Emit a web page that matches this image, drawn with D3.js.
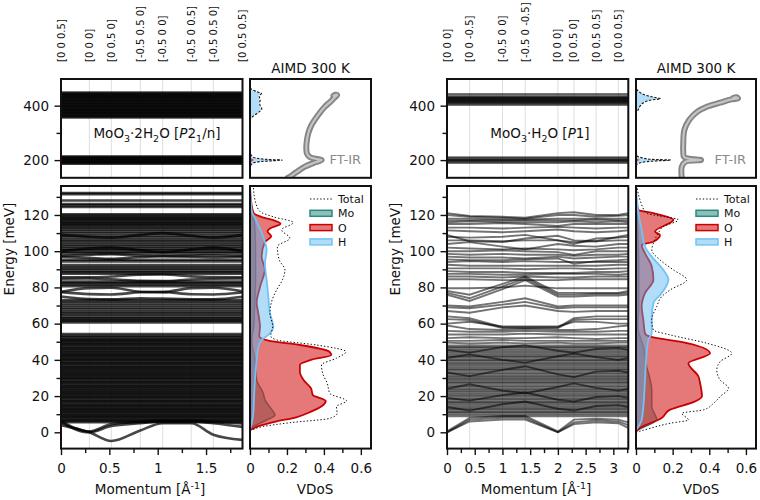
<!DOCTYPE html>
<html>
<head>
<meta charset="utf-8">
<script src="https://cdn.jsdelivr.net/npm/d3@7"></script>
<style>
body { margin: 0; background: #fff; }
text { font-family: "DejaVu Sans", sans-serif; }
</style>
</head>
<body>
<div id="chart"></div>
<script>
// Step 1: data

// high-symmetry points along each path (momentum, 1/A)
var kLeft = [0, 0.293, 0.520, 0.820, 1.052, 1.347, 1.575, 1.877];
var kLeftLabels = ["[0 0 0.5]", "[0 0 0]", "[0 0.5 0]", "[-0.5 0.5 0]", "[-0.5 0 0]", "[-0.5 0 0.5]", "[-0.5 0.5 0]", "[0 0.5 0.5]"];
var kRight = [0, 0.407, 1.002, 1.411, 2.0, 2.29, 2.69, 3.09, 3.27];
var kRightLabels = ["[0 0 0]", "[0 0 -0.5]", "[-0.5 0 0]", "[-0.5 0 -0.5]", "[0 0 0]", "[0 0.5 0]", "[0 0.5 0.5]", "[0 0.0 0.5]"];

// MoO3.2H2O : flat (dispersionless) bands, meV
var hiFlatLeft = [357, 360, 364, 367, 371, 374, 378, 381, 385, 388, 392, 396, 399, 403, 406, 410, 413, 417, 420, 424, 427, 431, 434, 438, 441, 445, 448];
var loFlatLeftTop = [187, 190, 193, 196, 199, 202, 205, 208, 211, 213];
var flatLeft = [5.6, 6.3, 6.9, 7.7, 8.3, 9.1, 9.6, 10.4, 11.1, 11.7, 12.5, 13.1, 13.8, 14.6, 15.2, 15.9, 16.7, 17.3, 18, 18.8,
  19.4, 20.1, 20.9, 21.5, 22.2, 23, 23.6, 24.3, 25.1, 25.7, 26.4, 27.2, 27.8, 28.5, 29.3, 29.9, 30.6, 31.4, 32, 32.7,
  33.5, 34.1, 34.8, 35.6, 36.2, 36.9, 37.7, 38.3, 39, 39.8, 40.4, 41.1, 41.9, 42.5, 43.2, 44, 44.6, 45.3, 46.1, 46.7,
  47.4, 48.2, 48.8, 49.5, 50.3, 50.9, 51.6, 52.4, 53.3, 54.2,
  60.7, 61.5, 62.2, 62.9, 63.8, 64.9, 65.8, 66.7, 67.8, 68.8, 69.9, 71, 72.1, 73,
  80.7, 81.6, 82.4, 83.2, 87.6, 88.4, 89.3, 90.3, 91.2, 92.3, 94.4, 95.3,
  98.8, 99.7, 100.6, 101.4, 102.5, 103.5, 104.6, 105.6, 106.5, 107.6, 108.6, 109.8, 110.8, 111.9, 112.8,
  113.6, 114.3, 115, 115.6, 116.3, 117, 117.6, 118.3, 119, 119.7, 120.4, 124.4, 125.3, 126.1, 128, 131.5, 132.1];
// MoO3.2H2O : dispersive bands, energy at each point of kLeft
var dispLeft = [
  [4, 0, -4.8, 1, 5, 5, -1.3, -4.2],
  [5.5, 0, 3.5, 5, 6, 6, 5, 3],
  [6.2, 0.5, 4.5, 5.8, 6.5, 6.5, 5.8, 4.8],
  [77.6, 79.6, 79.8, 77.6, 77.4, 79.6, 79.8, 77.8],
  [77.4, 76.3, 76.1, 77.3, 77.5, 76.2, 76.1, 77.2],
  [75, 73.6, 73.4, 74, 73.8, 73.5, 73.4, 74.8],
  [84.8, 84.9, 84.5, 83.6, 83.5, 84.4, 84.8, 84.9],
  [85.6, 85.6, 86, 87, 87.1, 86.1, 85.7, 85.6],
  [97, 96.3, 95.8, 96.8, 97.2, 97, 96.6, 97],
  [97.4, 98, 98.4, 97.6, 97.4, 97.6, 97.8, 97.4],
  [100, 101.5, 102, 100.5, 99.5, 101, 102, 100],
  [109, 108, 107.5, 109, 110, 108.5, 107.5, 109]
];

// MoO3.H2O : flat bands, meV
var hiFlatRight = [402, 406, 410, 412, 414, 416, 418, 420, 422, 424, 426, 428, 430, 432, 437, 443];
var loFlatRightTop = [189, 193, 197, 199, 201, 203, 207, 211];
var flatRight = [8.8, 9.6, 10.5, 11.2, 12, 12.9, 13.6, 14.3, 15.2, 16, 16.7, 17.6, 18.3, 19.1, 20, 20.7, 21.5, 22.4, 23.1, 23.9,
  24.8, 25.5, 26.3, 27.2, 27.9, 28.7, 29.6, 30.3, 31.1, 32, 32.7, 33.5, 34.4, 35.1, 35.9, 36.8, 37.5, 38.3, 39.2, 39.9,
  40.7, 41.6, 42.3, 43.1, 44, 44.7, 45.5, 46.4, 47.1, 47.9];
// MoO3.H2O : dispersive bands, energy at each point of kRight
var dispRight = [
  [0, 6, 7, 7, 0, 4.5, 5.5, 5, 2.5],
  [0, 7, 8, 8, 0, 5.5, 6.5, 6, 4],
  [0.5, 8, 9, 9, 0.5, 7, 7.5, 7, 5.5],
  [14, 12, 15.5, 17, 13, 12, 14.5, 15, 14],
  [19, 17.5, 20.5, 22, 18, 17, 19.5, 20, 19],
  [24, 26.5, 23, 21.5, 25, 27, 24.5, 23, 24],
  [33, 31, 34.5, 36.5, 32, 30.5, 33.5, 34, 33],
  [41, 43, 40, 38.5, 42, 43.5, 41.5, 40, 41],
  [45.5, 44, 47, 48, 45, 44, 46, 46.5, 45.5],
  [49.5, 49, 49.5, 49, 49.5, 49, 49, 49.5, 49.5],
  [50.5, 50.5, 51, 50.5, 50.5, 50.5, 50.5, 50.5, 50.5],
  [52, 52.5, 52, 52, 52.5, 52, 51.5, 52, 52],
  [54, 54, 54, 54.5, 54, 54, 54, 54, 54],
  [56, 55.5, 55.5, 56, 55.5, 55.5, 55.5, 56, 56],
  [59, 57, 56.5, 57, 56.5, 56.5, 57, 58.5, 59],
  [60, 61, 58.5, 58.5, 58.5, 61, 61, 60, 60],
  [62.5, 62, 57.5, 57.5, 57.5, 62, 62.5, 62.5, 62.5],
  [64, 63, 58, 58, 58, 63, 64, 64, 64],
  [67, 66, 69, 70, 67, 66.5, 67, 67, 67],
  [69, 68.5, 70.5, 72, 68.5, 69, 69, 69, 69],
  [70, 69.5, 72, 74, 69.5, 70, 70, 70, 70],
  [76, 72.5, 79, 84, 75, 75, 75.5, 75.5, 76],
  [77, 74, 80.5, 85, 76, 76, 76.5, 76.5, 77],
  [78, 76, 82, 86, 77, 77, 77, 77, 78],
  [79.5, 79.5, 80, 81, 79.5, 79.5, 79.5, 79.5, 79.5],
  [84.5, 84.5, 84, 84, 84, 84.5, 84.5, 84.5, 84.5],
  [86, 86, 85.5, 86, 85.5, 85.5, 86, 86, 86],
  [87.5, 87.5, 87, 87, 87.5, 87.5, 87.5, 87, 87.5],
  [89, 88.5, 88.5, 88, 88, 88, 88.5, 88.5, 89],
  [90.5, 90.5, 90.5, 90, 90.5, 90.5, 90, 90.5, 90.5],
  [92.5, 92, 92, 92, 92, 92, 92, 92.5, 92.5],
  [94, 94.5, 94, 94.5, 94, 94, 94, 94, 94],
  [95.5, 95, 95, 95.5, 96, 93, 94.5, 95, 95.5],
  [97, 96.5, 96.5, 96, 97, 96, 96.5, 97, 97],
  [98.5, 98, 98.5, 98, 98, 97.5, 98, 98, 98.5],
  [100, 100, 100.5, 100, 99.5, 98, 100, 100, 100],
  [102, 101.5, 101, 101.5, 101, 100.5, 101, 102, 102],
  [104, 105, 102.5, 101, 104, 103, 102.5, 104, 104],
  [106, 106, 105.5, 106, 106, 105, 105.5, 106, 106],
  [108, 107.5, 108, 109, 106, 104, 107, 107.5, 108],
  [109, 105.5, 105, 107, 108.5, 106, 105.5, 108, 109],
  [111.5, 111, 110.5, 111, 112, 111, 110.5, 111, 111.5],
  [113, 113, 112.5, 113, 113.5, 113, 112.5, 113, 113],
  [115, 115, 115.5, 115, 114, 115, 115, 115, 115],
  [116, 116.5, 116, 116, 116, 116.5, 116, 116.5, 116],
  [117, 117, 117, 117, 117, 117, 117.5, 117, 117],
  [118, 118, 117.5, 117.5, 118, 118, 118, 118, 118],
  [120, 119, 118.5, 118, 120, 120, 119, 119.5, 120],
  [121, 119.5, 119, 118.5, 121, 121.5, 120, 120, 121]
];

// VDoS curves, [energy meV, VDoS]
var totLeft = [[0.9, 0], [3.2, 0.072], [5.3, 0.216], [7.7, 0.432], [10.5, 0.472], [14.2, 0.468], [17.3, 0.523], [21.5, 0.432], [27.1, 0.418], [32.6, 0.393], [37.2, 0.387], [40.9, 0.468], [44.5, 0.519], [48.2, 0.36], [51, 0.144], [53.2, 0.112], [58.4, 0.123], [65.7, 0.108], [72.2, 0.117], [78.6, 0.144], [84.2, 0.176], [89.7, 0.189], [95.2, 0.158], [102.6, 0.148], [107.2, 0.216], [111.8, 0.171], [115.8, 0.234], [119, 0.126], [121.9, 0.054], [128.3, 0.027], [136, 0.018]];
var oLeft = [[1.3, 0], [3.5, 0.05], [5.9, 0.14], [8.3, 0.25], [11.4, 0.33], [14.5, 0.39], [17.3, 0.41], [20.6, 0.34], [24.3, 0.33], [28.9, 0.29], [33.5, 0.27], [37.2, 0.27], [40, 0.33], [42.7, 0.44], [44.5, 0.43], [48.2, 0.27], [50.6, 0.1], [53, 0.05], [58.4, 0.054], [65.7, 0.045], [71.5, 0.036], [80.5, 0.055], [90, 0.08], [97, 0.063], [105, 0.08], [108.2, 0.115], [111, 0.095], [112.7, 0.11], [115.2, 0.165], [117, 0.13], [119, 0.06], [121, 0.02], [128.3, 0.005], [136, 0]];
var hLeft = [[1.4, 0], [5, 0.009], [10.5, 0.018], [19.8, 0.022], [28.9, 0.027], [40, 0.036], [47.3, 0.045], [51, 0.063], [53.8, 0.099], [58.4, 0.126], [65.7, 0.108], [75, 0.099], [84.2, 0.09], [93.3, 0.081], [100.5, 0.09], [107.8, 0.072], [117.3, 0.032], [122, 0.01], [136, 0]];
var moLeft = [[1.4, 0], [3.2, 0.018], [6.8, 0.09], [9.6, 0.135], [11.4, 0.126], [17.9, 0.081], [21.5, 0.072], [28.9, 0.036], [40, 0.027], [48, 0.012], [52, 0.01], [58, 0.02], [70, 0.025], [85, 0.03], [100, 0.03], [115, 0.025], [125, 0.005], [136, 0]];

var totRight = [[0, 0], [2.2, 0.077], [5, 0.186], [6.8, 0.286], [10.5, 0.25], [12.4, 0.368], [16, 0.423], [19.7, 0.459], [24.3, 0.505], [28.9, 0.459], [34.4, 0.441], [39, 0.459], [43.6, 0.523], [49.2, 0.386], [53.8, 0.186], [56.5, 0.095], [62, 0.086], [69.4, 0.113], [74.9, 0.14], [78.6, 0.186], [84.2, 0.277], [89.7, 0.204], [95.2, 0.131], [100.7, 0.086], [104.4, 0.095], [110, 0.122], [113.6, 0.149], [117.3, 0.231], [121, 0.058], [128.3, 0.022], [136, 0.005]];
var oRight = [[0.4, 0], [2.4, 0.022], [7.9, 0.14], [12.5, 0.186], [17.1, 0.323], [19.8, 0.36], [27.1, 0.35], [30.8, 0.341], [38.1, 0.286], [43.6, 0.404], [50.1, 0.24], [52.8, 0.077], [54.7, 0.049], [62, 0.04], [69.4, 0.031], [76.8, 0.049], [84.2, 0.095], [91.5, 0.086], [98.9, 0.049], [103.4, 0.031], [105.2, 0.095], [108.9, 0.131], [110.8, 0.104], [117.3, 0.204], [121, 0.095], [122.8, 0.013], [130, 0]];
var hRight = [[1.3, 0], [6.8, 0.031], [14.2, 0.04], [28.9, 0.049], [43.6, 0.058], [51, 0.067], [54.7, 0.086], [63.9, 0.086], [71.3, 0.095], [76.8, 0.14], [84.2, 0.177], [89.7, 0.149], [97, 0.086], [102.6, 0.049], [111.8, 0.031], [120, 0.015], [128.3, 0.005], [136, 0]];
var moRight = [[1, 0], [3.2, 0.049], [6.9, 0.113], [14.3, 0.086], [23.4, 0.086], [29, 0.077], [36.3, 0.058], [47.3, 0.04], [58.3, 0.01], [70, 0.015], [90, 0.015], [110, 0.01], [128, 0]];

// high energy VDoS (top panels)
var hTopLeft = [[150, 0], [175, 0.002], [185, 0.01], [193, 0.04], [198, 0.12], [200, 0.17], [202, 0.1], [206, 0.04], [212, 0.012], [225, 0.002], [240, 0], [340, 0], [352, 0.002], [362, 0.015], [375, 0.04], [388, 0.06], [400, 0.05], [412, 0.048], [420, 0.05], [435, 0.045], [445, 0.058], [452, 0.03], [462, 0.003], [475, 0], [498, 0]];
var totTopLeft = [[150, 0], [180, 0.004], [190, 0.02], [195, 0.06], [198, 0.14], [200, 0.175], [202, 0.11], [206, 0.045], [212, 0.015], [225, 0.003], [240, 0], [340, 0], [352, 0.004], [362, 0.018], [375, 0.045], [388, 0.064], [400, 0.055], [412, 0.052], [420, 0.055], [435, 0.05], [445, 0.062], [452, 0.035], [462, 0.005], [475, 0], [498, 0]];
var oTopLeft = [[150, 0], [190, 0.002], [196, 0.012], [200, 0.022], [204, 0.012], [210, 0.002], [230, 0], [498, 0]];
var hTopRight = [[150, 0], [181, 0], [190, 0.02], [196, 0.08], [200, 0.185], [203, 0.08], [210, 0.02], [218, 0], [372, 0], [385, 0.01], [400, 0.02], [412, 0.04], [420, 0.07], [426, 0.13], [430, 0.1], [438, 0.05], [448, 0.02], [460, 0.003], [470, 0], [498, 0]];
var totTopRight = [[150, 0], [181, 0.002], [190, 0.024], [196, 0.085], [200, 0.19], [203, 0.085], [210, 0.024], [218, 0.002], [372, 0.002], [385, 0.012], [400, 0.024], [412, 0.044], [420, 0.075], [426, 0.135], [430, 0.105], [438, 0.054], [448, 0.023], [460, 0.004], [470, 0], [498, 0]];
var oTopRight = [[150, 0], [192, 0.002], [198, 0.012], [201, 0.02], [204, 0.01], [210, 0], [498, 0]];

// FT-IR spectra, [energy meV, intensity] in path order
var ftirLeft = [[135, 0.205], [139, 0.216], [155, 0.25], [176, 0.297], [192, 0.355], [200, 0.388], [205, 0.355], [212, 0.322], [225, 0.308], [240, 0.305], [262, 0.306], [298, 0.315], [329, 0.333], [366, 0.369], [396, 0.405], [415, 0.436], [431, 0.459], [439, 0.472], [440, 0.462], [436, 0.452]];
var ftirRight = [[135, 0.25], [176, 0.25], [194, 0.27], [200, 0.355], [205, 0.29], [212, 0.262], [230, 0.258], [262, 0.258], [311, 0.264], [347, 0.29], [378, 0.335], [397, 0.39], [411, 0.459], [423, 0.52], [427, 0.557], [431, 0.548], [428, 0.53]];

var legendNames = ["Total", "Mo", "O", "H"];

// Step 2: layout and scales
var svgWidth = 760;
var svgHeight = 500;
var topY = [79, 177.8];
var botY = [186, 448.6];

var xLeft = d3.scaleLinear().domain([0, 1.877]).range([61, 242.5]);
var xRight = d3.scaleLinear().domain([0, 3.27]).range([447, 628.3]);
var vLeft = d3.scaleLinear().domain([0, 0.655]).range([250, 371]);
var vRight = d3.scaleLinear().domain([0, 0.655]).range([636, 756]);
var yTop = d3.scaleLinear().domain([135, 498]).range([topY[1], topY[0]]);
var yBot = d3.scaleLinear().domain([-9, 136]).range([botY[1], botY[0]]);

var svg = d3.select("#chart")
  .append("svg")
  .attr("width", svgWidth)
  .attr("height", svgHeight);
svg.append("rect").attr("width", svgWidth).attr("height", svgHeight).attr("fill", "#fff");
var defs = svg.append("defs");

var clipCount = 0;
function clipFor(x0, x1, y0, y1) {
  clipCount += 1;
  var id = "clip" + clipCount;
  defs.append("clipPath").attr("id", id)
    .append("rect").attr("x", x0).attr("y", y0).attr("width", x1 - x0).attr("height", y1 - y0);
  return "url(#" + id + ")";
}

// band structure panel
function drawBands(xs, ys, kpts, flat, disp, curve, opacity, width) {
  var r = xs.range(), d = ys.range();
  var g = svg.append("g").attr("clip-path", clipFor(r[0], r[1], d[1], d[0]));
  g.selectAll(".grid").data(kpts.slice(1, kpts.length - 1)).enter()
    .append("line")
    .attr("x1", k => xs(k)).attr("x2", k => xs(k))
    .attr("y1", d[1]).attr("y2", d[0])
    .attr("stroke", "#dedede").attr("stroke-width", 1);
  g.selectAll(".flat").data(flat).enter()
    .append("line")
    .attr("x1", r[0]).attr("x2", r[1])
    .attr("y1", e => ys(e)).attr("y2", e => ys(e))
    .attr("stroke", "#000").attr("stroke-opacity", opacity).attr("stroke-width", width);
  var line = d3.line().x((e, i) => xs(kpts[i])).y(e => ys(e)).curve(curve);
  g.selectAll(".disp").data(disp).enter()
    .append("path")
    .attr("d", line)
    .attr("fill", "none")
    .attr("stroke", "#000").attr("stroke-opacity", opacity).attr("stroke-width", width);
}

// VDoS layers
function drawVdos(vs, ys, layers) {
  var r = vs.range(), d = ys.range();
  var g = svg.append("g").attr("clip-path", clipFor(r[0], r[1], d[1], d[0]));
  layers.forEach(function(l) {
    var data = l.data.slice().sort((a, b) => a[0] - b[0]);
    if (l.fill) {
      var area = d3.area().y(p => ys(p[0])).x0(vs(0)).x1(p => vs(p[1])).curve(d3.curveMonotoneY);
      g.append("path").attr("d", area(data)).attr("fill", l.fill).attr("fill-opacity", l.fillOpacity).attr("stroke", "none");
    }
    var line = d3.line().y(p => ys(p[0])).x(p => vs(p[1])).curve(d3.curveMonotoneY);
    g.append("path").attr("d", line(data)).attr("fill", "none")
      .attr("stroke", l.stroke).attr("stroke-width", l.width)
      .attr("stroke-dasharray", l.dash || null);
  });
  return g;
}

function frame(xs, ys) {
  var r = xs.range(), d = ys.range();
  svg.append("rect")
    .attr("x", r[0]).attr("y", d[1]).attr("width", r[1] - r[0]).attr("height", d[0] - d[1])
    .attr("fill", "none").attr("stroke", "#111").attr("stroke-width", 2);
}

function styleAxis(g) {
  g.select(".domain").remove();
  g.selectAll("line").attr("stroke", "#111").attr("stroke-width", 1.4);
  g.selectAll("text").attr("font-size", "13.5px").attr("fill", "#111").attr("font-family", "DejaVu Sans");
}

function yAxis(xs, ys, majors, minors) {
  var x0 = xs.range()[0];
  var gMin = svg.append("g").attr("transform", `translate(${x0}, 0)`)
    .call(d3.axisLeft(ys).tickValues(minors).tickSize(4.5).tickFormat(""));
  styleAxis(gMin);
  var gMaj = svg.append("g").attr("transform", `translate(${x0}, 0)`)
    .call(d3.axisLeft(ys).tickValues(majors).tickSize(6.5).tickPadding(5.5).tickFormat(d => String(d)));
  styleAxis(gMaj);
}

function xAxis(xs, y0, majors, minors) {
  var gMin = svg.append("g").attr("transform", `translate(0, ${y0})`)
    .call(d3.axisBottom(xs).tickValues(minors).tickSize(4.5).tickFormat(""));
  styleAxis(gMin);
  var gMaj = svg.append("g").attr("transform", `translate(0, ${y0})`)
    .call(d3.axisBottom(xs).tickValues(majors).tickSize(6.5).tickPadding(8).tickFormat(d => String(d)));
  styleAxis(gMaj);
}

function richText(x, y, parts) {
  var t = svg.append("text").attr("x", x).attr("y", y).attr("text-anchor", "middle")
    .attr("font-size", "13.5px").attr("fill", "#111");
  var shift = 0;
  parts.forEach(function(p) {
    var s = t.append("tspan").text(p[0]);
    var want = p[1] === "sub" ? 4 : 0;
    if (want !== shift) { s.attr("dy", want - shift); shift = want; }
    if (p[1] === "sub") s.attr("font-size", "9.5px");
    if (p[1] === "it") s.attr("font-style", "italic");
  });
  return t;
}

var colors = {
  mo: { fill: "#1f7f75", line: "#2a8a80" },
  o: { fill: "#d42020", line: "#cc0000" },
  h: { fill: "#55b4f0", line: "#72c3f5" }
};

function vdosLayers(mo, o, h, tot) {
  return [
    { data: mo, fill: colors.mo.fill, fillOpacity: 0.5, stroke: colors.mo.line, width: 1.5 },
    { data: o, fill: colors.o.fill, fillOpacity: 0.6, stroke: colors.o.line, width: 1.8 },
    { data: h, fill: colors.h.fill, fillOpacity: 0.45, stroke: colors.h.line, width: 1.8 },
    { data: tot, fill: null, stroke: "#111", width: 1, dash: "1.4,2" }
  ];
}

function legend(x0, y0) {
  var rows = svg.append("g");
  var items = [
    { name: legendNames[0], kind: "dot" },
    { name: legendNames[1], c: colors.mo, a: 0.5 },
    { name: legendNames[2], c: colors.o, a: 0.6 },
    { name: legendNames[3], c: colors.h, a: 0.45 }
  ];
  items.forEach(function(it, i) {
    var y = y0 + i * 14.3;
    if (it.kind === "dot") {
      rows.append("line").attr("x1", x0).attr("x2", x0 + 22).attr("y1", y).attr("y2", y)
        .attr("stroke", "#111").attr("stroke-width", 1).attr("stroke-dasharray", "1.4,2");
    } else {
      rows.append("rect").attr("x", x0).attr("y", y - 3).attr("width", 22).attr("height", 6)
        .attr("fill", it.c.fill).attr("fill-opacity", it.a)
        .attr("stroke", it.c.line).attr("stroke-width", 1.5);
    }
    rows.append("text").attr("x", x0 + 28).attr("y", y + 4)
      .attr("font-size", "11px").attr("fill", "#111").text(it.name);
  });
}

function kLabels(xs, kpts, labels) {
  svg.selectAll(null).data(labels).enter()
    .append("text")
    .attr("transform", (d, i) => `translate(${xs(kpts[i])}, 62) rotate(-90)`)
    .attr("dy", "0.35em")
    .attr("font-size", "10px")
    .attr("fill", "#111")
    .text(d => d);
}

// Step 3: draw both compounds
function drawCompound(p) {
  // bands
  drawBands(p.xs, yTop, p.k, p.hiFlat.concat(p.loFlatTop), [], d3.curveLinear, p.opacity, p.width);
  drawBands(p.xs, yBot, p.k, p.flat, p.disp, p.curve, p.opacity, p.width);

  // top VDoS with FT-IR
  drawVdos(p.vs, yTop, [
    { data: p.hTop, fill: colors.h.fill, fillOpacity: 0.45, stroke: "none", width: 0 },
    { data: p.oTop, fill: colors.o.fill, fillOpacity: 0.8, stroke: "none", width: 0 },
    { data: p.totTop, fill: null, stroke: "#111", width: 1.1, dash: "2.5,1.5" }
  ]);
  var gIr = svg.append("g").attr("clip-path", clipFor(p.vs.range()[0], p.vs.range()[1], topY[0], topY[1]));
  var irLine = d3.line().x(d => p.vs(d[1])).y(d => yTop(d[0])).curve(d3.curveCatmullRom.alpha(0.5));
  gIr.append("path").attr("d", irLine(p.ftir)).attr("fill", "none")
    .attr("stroke", "#858585").attr("stroke-width", 6).attr("stroke-linecap", "round");
  gIr.append("path").attr("d", irLine(p.ftir)).attr("fill", "none")
    .attr("stroke", "#c4c4c4").attr("stroke-width", 2.2).attr("stroke-linecap", "round");
  svg.append("text").attr("x", p.vs.range()[1] - 10).attr("y", 164).attr("text-anchor", "end")
    .attr("font-size", "13px").attr("fill", "#8a8a8a").text("FT-IR");

  // bottom VDoS
  drawVdos(p.vs, yBot, vdosLayers(p.mo, p.o, p.h, p.tot));
  legend(p.vs.range()[0] + 60, 199);

  // frames
  frame(p.xs, yTop); frame(p.xs, yBot); frame(p.vs, yTop); frame(p.vs, yBot);

  // axes
  yAxis(p.xs, yTop, [200, 400], [300]);
  yAxis(p.xs, yBot, [0, 20, 40, 60, 80, 100, 120], [10, 30, 50, 70, 90, 110, 130]);
  xAxis(p.xs, botY[1], p.xMajor, p.xMinor);
  xAxis(p.vs, botY[1], [0, 0.2, 0.4, 0.6], [0.1, 0.3, 0.5]);

  // labels
  kLabels(p.xs, p.k, p.kLabels);
  svg.append("text").attr("x", (p.vs.range()[0] + p.vs.range()[1]) / 2).attr("y", 73)
    .attr("text-anchor", "middle").attr("font-size", "13.5px").attr("fill", "#111").text("AIMD 300 K");
  richText(p.formulaX, 138, p.formula);

  var ml = svg.append("text").attr("x", p.momX).attr("y", 494).attr("text-anchor", "middle")
    .attr("font-size", "13.5px").attr("fill", "#111");
  ml.append("tspan").text("Momentum [Å");
  ml.append("tspan").attr("dy", -5).attr("font-size", "9.5px").text("-1");
  ml.append("tspan").attr("dy", 5).text("]");
  svg.append("text").attr("x", p.vdosX).attr("y", 494).attr("text-anchor", "middle")
    .attr("font-size", "13.5px").attr("fill", "#111").text("VDoS");
  svg.append("text").attr("transform", `translate(${p.xs.range()[0] - 47}, 249) rotate(-90)`)
    .attr("text-anchor", "middle").attr("font-size", "13.5px").attr("fill", "#111").text("Energy [meV]");
}

drawCompound({
  xs: xLeft, vs: vLeft, k: kLeft, kLabels: kLeftLabels,
  hiFlat: hiFlatLeft, loFlatTop: loFlatLeftTop, flat: flatLeft, disp: dispLeft,
  curve: d3.curveMonotoneX, opacity: 0.72, width: 2.6,
  hTop: hTopLeft, oTop: oTopLeft, totTop: totTopLeft, ftir: ftirLeft,
  mo: moLeft, o: oLeft, h: hLeft, tot: totLeft,
  xMajor: [0, 0.5, 1, 1.5], xMinor: [0.25, 0.75, 1.25, 1.75],
  formulaX: 157,
  formula: [["MoO", "n"], ["3", "sub"], ["·2H", "n"], ["2", "sub"], ["O [", "n"], ["P", "it"], ["2", "n"], ["1", "sub"], ["/n]", "n"]],
  momX: 150, vdosX: 315
});

drawCompound({
  xs: xRight, vs: vRight, k: kRight, kLabels: kRightLabels,
  hiFlat: hiFlatRight, loFlatTop: loFlatRightTop, flat: flatRight, disp: dispRight,
  curve: d3.curveLinear, opacity: 0.55, width: 1.9,
  hTop: hTopRight, oTop: oTopRight, totTop: totTopRight, ftir: ftirRight,
  mo: moRight, o: oRight, h: hRight, tot: totRight,
  xMajor: [0, 0.5, 1, 1.5, 2, 2.5, 3], xMinor: [0.25, 0.75, 1.25, 1.75, 2.25, 2.75, 3.25],
  formulaX: 540,
  formula: [["MoO", "n"], ["3", "sub"], ["·H", "n"], ["2", "sub"], ["O [", "n"], ["P", "it"], ["1]", "n"]],
  momX: 536, vdosX: 701
});
</script>
</body>
</html>
